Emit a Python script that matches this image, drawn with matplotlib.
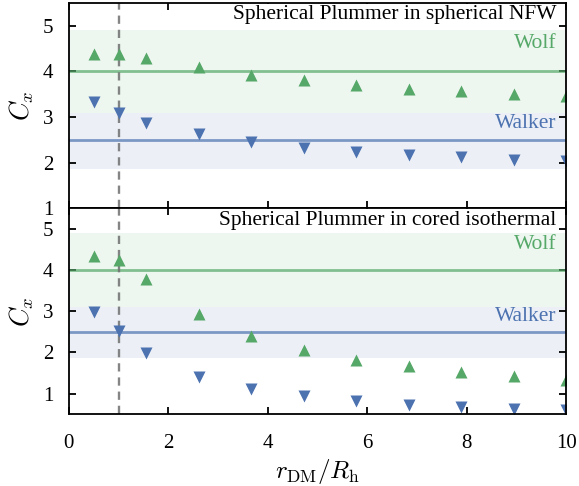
import numpy as np
import matplotlib
matplotlib.use("Agg")
import matplotlib.pyplot as plt

plt.rcParams['font.family'] = ['Liberation Serif', 'DejaVu Serif']
plt.rcParams['mathtext.fontset'] = 'cm'

r = [0.5, 1.0, 1.556, 2.611, 3.667, 4.722, 5.778, 6.833, 7.889, 8.944, 10.0]

nfw_wolf = [4.39, 4.38, 4.30, 4.10, 3.93, 3.81, 3.71, 3.62, 3.57, 3.51, 3.46]
nfw_walker = [3.33, 3.10, 2.88, 2.62, 2.46, 2.33, 2.24, 2.17, 2.12, 2.07, 2.05]
iso_wolf = [4.34, 4.24, 3.79, 2.94, 2.40, 2.06, 1.82, 1.66, 1.53, 1.43, 1.33]
iso_walker = [2.98, 2.52, 1.99, 1.40, 1.10, 0.93, 0.81, 0.73, 0.68, 0.63, 0.60]

wolf_c, wolf_lo, wolf_hi = 4.0, 3.1, 4.9
walker_c, walker_lo, walker_hi = 2.5, 1.87, 3.1

titles = ["Spherical Plummer in spherical NFW", "Spherical Plummer in cored isothermal"]
ylims = [(1, 5.5), (0.5, 5.5)]
yticks = [[1, 2, 3, 4, 5], [1, 2, 3, 4, 5]]
xticks = [0, 2, 4, 6, 8, 10]

green = '#55a868'
blue = '#4c72b0'

fig, axes = plt.subplots(2, 1, figsize=(5.79, 4.86), dpi=100, sharex=True)
fig.subplots_adjust(left=0.119, right=0.978, top=0.994, bottom=0.148, hspace=0)

data = [(nfw_wolf, nfw_walker), (iso_wolf, iso_walker)]
for ax, (wv, kv), title, yl, yt in zip(axes, data, titles, ylims, yticks):
    ax.axhspan(wolf_lo, wolf_hi, color=green, alpha=0.1, lw=0)
    ax.axhspan(walker_lo, walker_hi, color=blue, alpha=0.1, lw=0)
    ax.axhline(wolf_c, color=green, alpha=0.7, lw=2)
    ax.axhline(walker_c, color=blue, alpha=0.7, lw=2)
    ax.axvline(1.0, color='#707070', ls=(0, (3.5, 2.5)), lw=1.7, alpha=0.85)
    ax.plot(r, wv, ls='none', marker='^', ms=8, color=green, mec='none')
    ax.plot(r, kv, ls='none', marker='v', ms=8, color=blue, mec='none')
    ax.set_xlim(0, 10)
    ax.set_ylim(*yl)
    ax.set_yticks(yt)
    ax.set_xticks(xticks)
    ax.set_ylabel(r'$C_x$', fontsize=19, labelpad=5)
    ax.text(0.98, 0.99, title, transform=ax.transAxes, ha='right', va='top', fontsize=15.5,
            bbox=dict(facecolor='white', edgecolor='none', pad=1))
    ax.text(0.98, 4.62, 'Wolf', transform=ax.get_yaxis_transform(), ha='right', va='center',
            fontsize=15.5, color=green)
    ax.text(0.98, 2.87, 'Walker', transform=ax.get_yaxis_transform(), ha='right', va='center',
            fontsize=15.5, color=blue)
    ax.tick_params(direction='in', top=True, right=True, length=5, width=1.3, labelsize=15)
    ax.tick_params(axis='y', pad=11)
    for s in ax.spines.values():
        s.set_linewidth(1.3)

axes[1].set_xlabel(r'$r_{\rm DM}/R_{\rm h}$', fontsize=18, labelpad=3)
axes[1].tick_params(axis='x', pad=14)

fig.savefig('out.png', dpi=100)
